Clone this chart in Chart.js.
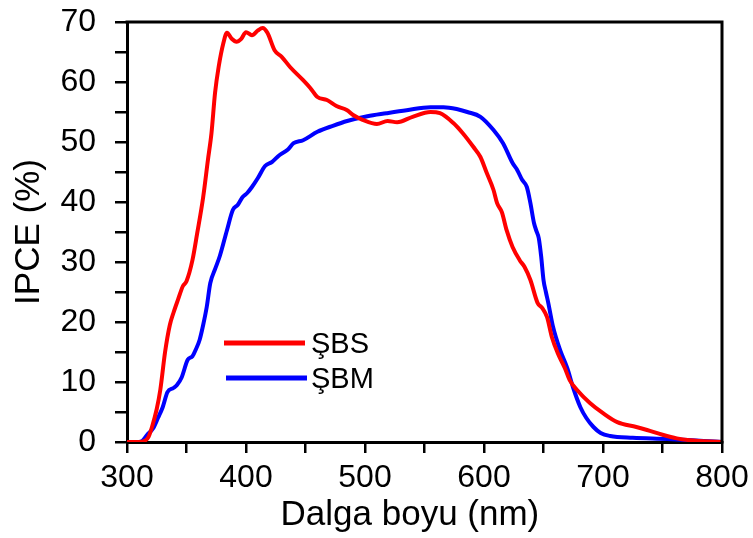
<!DOCTYPE html>
<html>
<head>
<meta charset="utf-8">
<script src="https://cdn.jsdelivr.net/npm/chart.js@4/dist/chart.umd.min.js"></script>
<style>
  html, body { margin: 0; padding: 0; background: #fff; }
  #wrap { width: 753px; height: 538px; }
</style>
</head>
<body>
<div id="wrap"><canvas id="c" width="753" height="538"></canvas></div>
<script>
// ---- data ----
const seriesNames = ["ŞBS", "ŞBM"];
const sbsWavelength = [300,310,315,318,321,325,328,332,336,339,343,347,350,355,359,364,368,371,374,377,381,384,388,392,396,400,405,410,414,418,424,430,437,448,454,460,468,476,485,490,498,510,519,527,540,555,563,574,582,591,597,602,608,611,615,619,624,630,634,639,645,649,653,657,662,668,672,678,689,700,712,728,737,750,762,773,800];
const sbsIPCE = [0,0,0.2,0.8,2.5,5.5,8.7,15,19.5,21.5,23.8,26,26.8,30.3,34.8,40.8,47,51.5,58.2,62.5,66.5,68.2,67.2,66.7,67.2,68.3,67.8,68.6,69,68.2,65.3,64.2,62.5,60.3,59,57.5,57,56,55.3,54.5,53.7,53,53.5,53.3,54.2,55,54.8,53.2,51.5,49.2,47.5,45,42,39.8,38.3,35.3,32.5,30.3,29.2,27,23.2,22.3,20.8,17.5,14.8,12.3,10.3,8.7,6.5,4.8,3.3,2.5,2,1.2,0.6,0.3,0];
const sbmWavelength = [300,310,313,317,322,326,330,334,339,342,346,351,355,358,361,364,367,370,374,378,384,389,393,397,401,405,410,416,422,428,435,440,448,460,473,485,502,518,535,555,566,577,586,597,608,616,624,628,632,636,639,642,644,646,648,650,652,654,658,664,670,675,681,686,692,698,706,725,754,800];
const sbmIPCE = [0,0,0.2,1.2,2.3,4,5.8,8.3,9,9.5,10.8,13.7,14.3,15.5,17,19.5,22.5,26.5,28.8,31,35.3,38.7,39.5,40.8,41.5,42.5,44,46,46.7,47.8,48.7,49.8,50.3,51.7,52.7,53.5,54.3,54.8,55.3,55.8,55.8,55.5,55,54.2,52,49.8,46.5,45.3,43.7,42.5,39.8,36.5,35.2,34,31,27,25,23.2,19.2,15.3,12.3,9,5.8,4,2.5,1.5,1,0.7,0.5,0];
const xTickValues = [300,400,500,600,700,800];
const yTickValues = [0,10,20,30,40,50,60,70];

const FONT = '"Liberation Sans", Arial, Helvetica, sans-serif';

function toPoints(xs, ys) { return xs.map((x, i) => ({ x: x, y: ys[i] })); }

const frameLegendPlugin = {
  id: 'frameLegend',
  afterDatasetsDraw(chart) {
    const { ctx, chartArea: a } = chart;
    ctx.save();
    ctx.strokeStyle = '#000';
    ctx.lineWidth = 3;
    ctx.lineCap = 'square';
    ctx.beginPath();
    ctx.moveTo(a.left, a.top);
    ctx.lineTo(a.right, a.top);
    ctx.lineTo(a.right, a.bottom);
    ctx.stroke();
    const items = chart.data.datasets;
    const lx0 = 224, lx1 = 305, tx = 311;
    const rows = [343, 378];
    ctx.font = '29px ' + FONT;
    ctx.textBaseline = 'middle';
    ctx.textAlign = 'left';
    items.forEach((ds, i) => {
      const y = rows[i];
      ctx.strokeStyle = ds.borderColor;
      ctx.lineWidth = 5;
      ctx.lineCap = 'butt';
      ctx.beginPath();
      ctx.moveTo(lx0 + i * 2, y);
      ctx.lineTo(lx1 + i * 2, y);
      ctx.stroke();
      ctx.fillStyle = '#000';
      ctx.fillText(ds.label, tx, y + 2);
    });
    ctx.restore();
  }
};

new Chart(document.getElementById('c'), {
  type: 'line',
  data: {
    datasets: [
      { label: seriesNames[0], data: toPoints(sbsWavelength, sbsIPCE), borderColor: '#ff0000', backgroundColor: '#ff0000', borderWidth: 4, pointRadius: 0, tension: 0.35, cubicInterpolationMode: 'monotone', fill: false },
      { label: seriesNames[1], data: toPoints(sbmWavelength, sbmIPCE), borderColor: '#0000ff', backgroundColor: '#0000ff', borderWidth: 4, pointRadius: 0, tension: 0.35, cubicInterpolationMode: 'monotone', fill: false }
    ]
  },
  options: {
    responsive: false,
    animation: false,
    devicePixelRatio: 1,
    layout: { padding: { top: 22, right: 31, left: 0, bottom: 0 } },
    plugins: { legend: { display: false }, tooltip: { enabled: false } },
    scales: {
      x: {
        type: 'linear',
        min: 300, max: 800,
        afterFit(s) { s.height = 96; s.paddingLeft = 0; s.paddingRight = 0; },
        border: { display: true, color: '#000', width: 3 },
        grid: { drawOnChartArea: false, drawTicks: true, tickLength: 11, color: '#000', lineWidth: 2.5 },
        ticks: {
          stepSize: 50, autoSkip: false, maxRotation: 0, padding: 6, color: '#000',
          font: { family: FONT, size: 32 },
          callback: (v) => xTickValues.includes(v) ? String(v) : ''
        },
        title: { display: true, text: 'Dalga boyu (nm)   ', color: '#000', font: { family: FONT, size: 35 }, padding: { top: 0, bottom: 2 } }
      },
      y: {
        type: 'linear',
        min: 0, max: 70,
        afterFit(s) { s.width = 127; s.paddingTop = 0; s.paddingBottom = 0; },
        border: { display: true, color: '#000', width: 3 },
        grid: { drawOnChartArea: false, drawTicks: true, tickLength: 12, color: '#000', lineWidth: 2.5 },
        ticks: {
          stepSize: 5, autoSkip: false, padding: 19, color: '#000',
          font: { family: FONT, size: 32 },
          callback: (v) => yTickValues.includes(v) ? String(v) : ''
        },
        title: { display: true, text: 'IPCE (%)', color: '#000', font: { family: FONT, size: 35 }, padding: { top: 8, bottom: 0 } }
      }
    }
  },
  plugins: [frameLegendPlugin]
});
</script>
</body>
</html>
